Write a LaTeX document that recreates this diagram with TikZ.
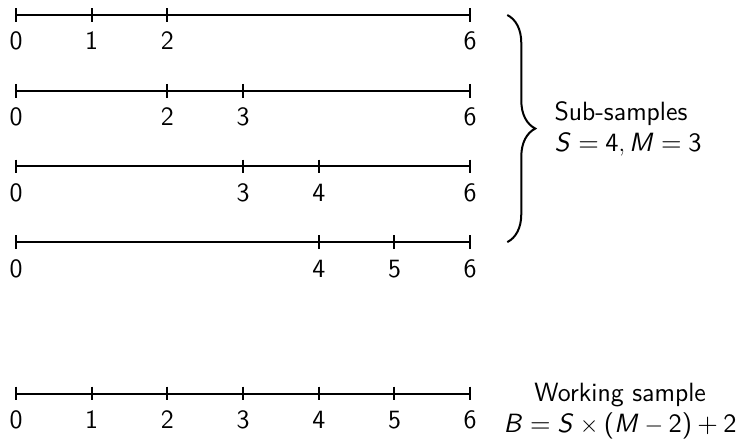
\documentclass[tikz,border=0pt]{standalone}
\usetikzlibrary{decorations.pathreplacing, positioning}
% sans-serif math, as in slides
\DeclareFontFamily{OT1}{sfm}{}
\DeclareFontShape{OT1}{sfm}{m}{n}{<->cmss10}{}
\DeclareFontShape{OT1}{sfm}{m}{it}{<->cmssi10}{}
\SetSymbolFont{operators}{normal}{OT1}{sfm}{m}{n}
\DeclareSymbolFont{sfletters}{OT1}{sfm}{m}{it}
\DeclareMathSymbol{B}{\mathalpha}{sfletters}{`B}
\DeclareMathSymbol{M}{\mathalpha}{sfletters}{`M}
\DeclareMathSymbol{S}{\mathalpha}{sfletters}{`S}

\begin{document}
\sffamily\fontsize{13.2}{15.4}\selectfont
\begin{tikzpicture}[x=1.33cm, y=1.33cm]
\tikzstyle{axis} = [line width=1pt]
\tikzstyle{tickmark} = [line width=1pt]
\tikzstyle{ticklabel} = [anchor=base, inner sep=0pt]
\tikzstyle{bracket} = [line width=1pt, decorate, decoration={brace, amplitude=14pt}]

\useasboundingbox (-0.211,0.198) rectangle (9.617,-5.667);

% Sub-samples
\foreach \row/\a/\b in {0/1/2, 1/2/3, 2/3/4, 3/4/5} {
  \draw[axis] (0,-\row) -- (6,-\row);
  \foreach \k in {0,\a,\b,6} {
    \draw[tickmark] (\k,-\row+0.09) -- (\k,-\row-0.09);
    \node (l\row-\k) [ticklabel] at (\k,-\row-0.462) {\k};
  }
}

% Working sample
\draw[axis] (0,-5) -- (6,-5);
\foreach \k in {0,...,6} {
  \draw[tickmark] (\k,-4.91) -- (\k,-5.09);
  \node (w-\k) [ticklabel] at (\k,-5.462) {\k};
}

% Brace and texts
\coordinate (btop) at (6.49,0);
\coordinate (bbot) at (6.49,-3);
\coordinate (bmid) at (6.49,-1.5);
\draw[bracket] (btop) -- (bbot);
\node (subs) [right=19pt of bmid, align=left] {Sub-samples\\ $S=4, M=3$};
\node (work) [align=center] at (7.98,-5.23) {Working sample\\ $B = S\times(M-2)+2$};

\end{tikzpicture}
\end{document}
